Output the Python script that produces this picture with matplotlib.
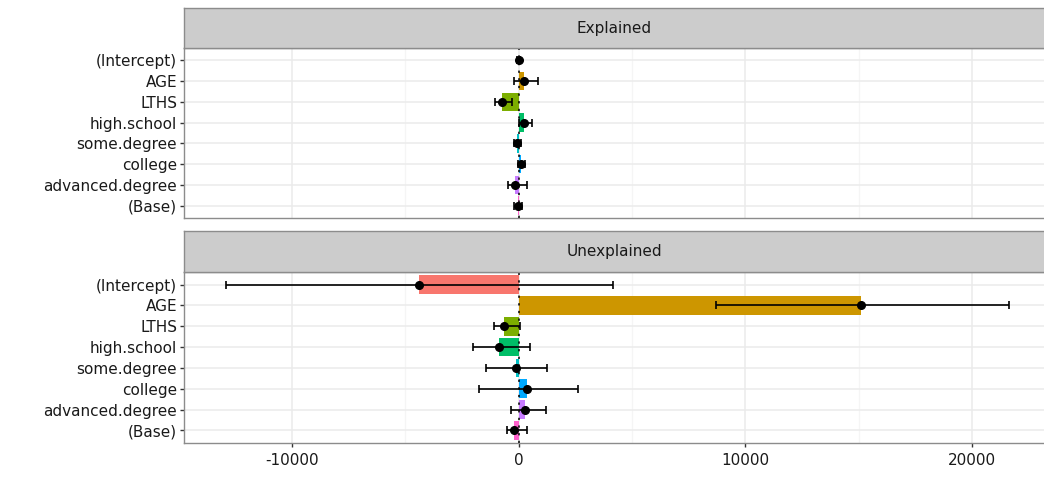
import numpy as np
import matplotlib
matplotlib.use("Agg")
import matplotlib.pyplot as plt
from matplotlib.ticker import MultipleLocator

plt.rcParams['font.family'] = ['DejaVu Sans']

# 变量名称与分解结果
variables = ["(Intercept)", "AGE", "LTHS", "high.school", "some.degree",
             "college", "advanced.degree", "(Base)"]
colors = ["#F8766D", "#CD9600", "#7CAE00", "#00BE67", "#00BFC4",
          "#00A9FF", "#C77CFF", "#FF61CC"]

explained = [0, 250, -750, 250, -60, 100, -150, -30]
explained_lo = [-60, -200, -1050, 0, -200, -50, -460, -200]
explained_hi = [60, 850, -300, 600, 120, 300, 350, 150]

unexplained = [-4400, 15100, -650, -850, -100, 350, 300, -200]
unexplained_lo = [-12900, 8700, -1100, -2000, -1450, -1750, -350, -500]
unexplained_hi = [4150, 21650, 50, 500, 1250, 2600, 1200, 350]

x_ticks = [-10000, 0, 10000, 20000]

W, H = 1044, 478
fig = plt.figure(figsize=(W / 100, H / 100), dpi=100)


def px_box(left, top, right, bottom):
    return [left / W, 1 - bottom / H, (right - left) / W, (bottom - top) / H]


def panel(top, bottom, strip_top, title, vals, lo, hi, show_x):
    ax = fig.add_axes(px_box(184, top, 1044, bottom))
    y = np.arange(len(variables))
    ax.barh(y, vals, height=0.9, color=colors, zorder=2)
    ax.axvline(0, color="black", lw=1.1, ls=(0, (1.5, 3.5)), zorder=3)
    v = np.array(vals)
    err = [v - np.array(lo), np.array(hi) - v]
    ax.errorbar(vals, y, xerr=err, fmt="o", color="black", ms=5.5,
                elinewidth=1.2, capsize=3, capthick=1.2, zorder=4)
    ax.set_xlim(-14765, 23176)
    ax.set_ylim(len(variables) - 0.4, -0.6)
    ax.set_yticks(y)
    ax.set_yticklabels(variables)
    ax.set_xticks(x_ticks)
    ax.xaxis.set_minor_locator(MultipleLocator(5000))
    ax.grid(which="major", color="#EBEBEB", lw=1.1, zorder=0)
    ax.grid(which="minor", axis="x", color="#F5F5F5", lw=0.9, zorder=0)
    ax.set_axisbelow(True)
    for side in ["left", "bottom", "top"]:
        ax.spines[side].set_color("#8C8C8C")
        ax.spines[side].set_linewidth(1.0)
    ax.spines["right"].set_visible(False)
    ax.tick_params(axis="both", which="major", length=3, width=1,
                   color="#333333", labelsize=11, labelcolor="#1A1A1A", pad=2)
    ax.tick_params(axis="x", which="minor", length=0)
    if show_x:
        ax.set_xticklabels([str(t) for t in x_ticks])
        ax.tick_params(axis="x", pad=4)
    else:
        ax.tick_params(axis="x", labelbottom=False, length=0)

    # 分面标题条
    st = fig.add_axes(px_box(184, strip_top, 1044, top))
    st.set_facecolor("#CCCCCC")
    st.set_xticks([])
    st.set_yticks([])
    for side in ["left", "bottom", "top"]:
        st.spines[side].set_color("#8C8C8C")
        st.spines[side].set_linewidth(1.0)
    st.spines["right"].set_visible(False)
    st.text(0.5, 0.5, title, ha="center", va="center", fontsize=11,
            color="#1A1A1A", transform=st.transAxes)
    return ax


panel(48, 218, 8, "Explained", explained, explained_lo, explained_hi, False)
panel(272, 443, 231, "Unexplained", unexplained, unexplained_lo,
      unexplained_hi, True)

fig.savefig("out.png", dpi=100)
